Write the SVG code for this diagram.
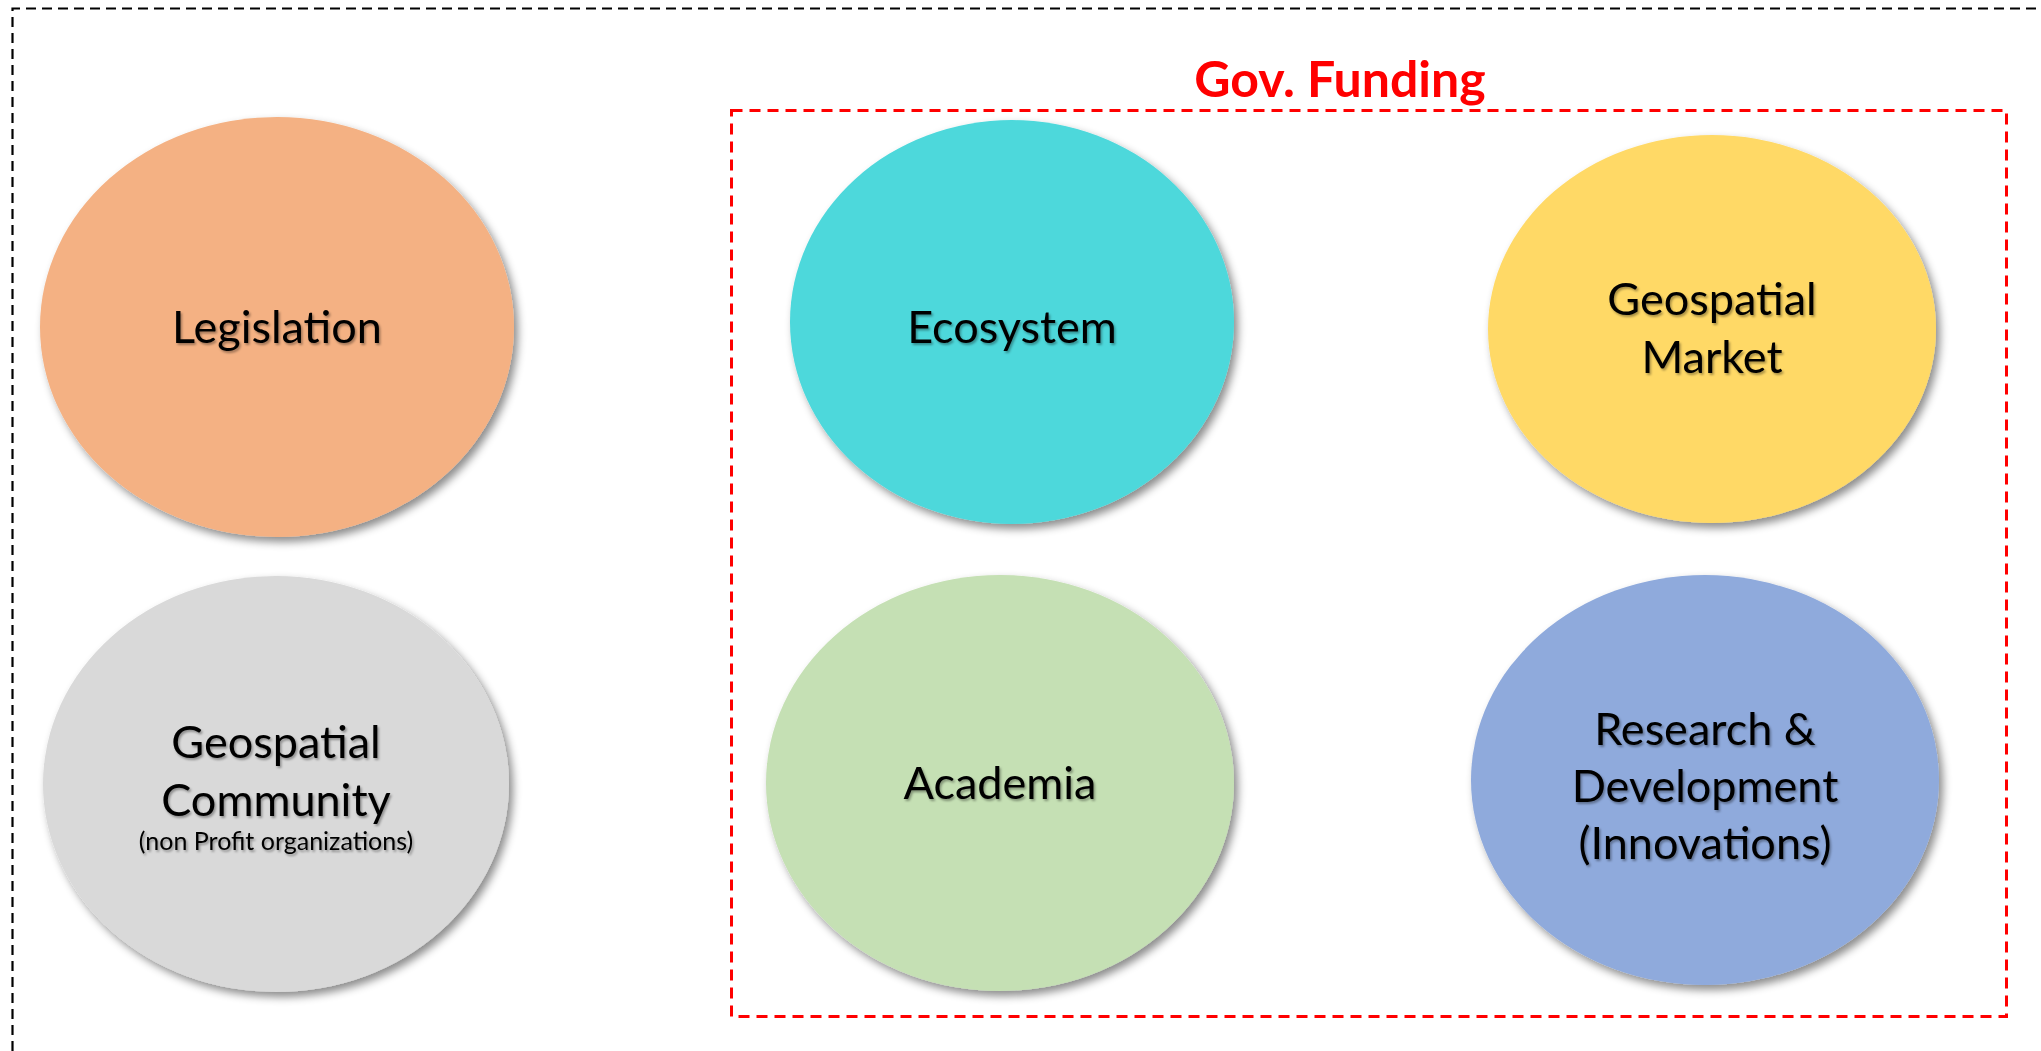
<svg xmlns="http://www.w3.org/2000/svg" width="2041" height="1051" viewBox="0 0 2041 1051">
<style>
.lbl{font-family:Lato,"Liberation Sans",sans-serif;font-size:45px;fill:#000;text-anchor:middle;filter:url(#tsh)}
.sm{font-size:25px}
.frame{fill:none;stroke:#000;stroke-width:2.2;stroke-dasharray:10 6}
.gov{fill:none;stroke:#FF0000;stroke-width:3;stroke-dasharray:11 7}
.title{font-family:Lato,"Liberation Sans",sans-serif;font-weight:bold;font-size:50px;fill:#FF0000;text-anchor:middle}
.node ellipse{filter:url(#sh)}
</style>
<defs>
<filter id="sh" x="-20%" y="-20%" width="140%" height="140%">
<feDropShadow dx="4" dy="5" stdDeviation="4" flood-color="#000" flood-opacity="0.45"/>
</filter>
<filter id="tsh" x="-10%" y="-30%" width="120%" height="160%">
<feDropShadow dx="1.5" dy="2" stdDeviation="1.2" flood-color="#000" flood-opacity="0.35"/>
</filter>
</defs>
<rect width="2041" height="1051" fill="#fff"/>
<path class="frame" d="M12.5,1051 V8.5 H2041"/>
<g id="gov-funding">
<rect class="gov" x="731.5" y="110.5" width="1275" height="906"/>
<text class="title" x="1340" y="97">Gov. Funding</text>
</g>
<g id="legislation" class="node">
<ellipse cx="277" cy="327" rx="237" ry="210" fill="#F4B183"/>
<text class="lbl" x="277" y="343">Legislation</text>
</g>
<g id="geospatial-community" class="node">
<ellipse cx="276" cy="784" rx="233" ry="208" fill="#D9D9D9"/>
<text class="lbl" x="276" y="758">Geospatial</text>
<text class="lbl" x="276" y="816">Community</text>
<text class="lbl sm" x="276" y="850">(non Profit organizations)</text>
</g>
<g id="ecosystem" class="node">
<ellipse cx="1012" cy="322" rx="222" ry="202" fill="#4DD8DB"/>
<text class="lbl" x="1012" y="343">Ecosystem</text>
</g>
<g id="geospatial-market" class="node">
<ellipse cx="1712" cy="329" rx="224" ry="194" fill="#FFD966"/>
<text class="lbl" x="1712" y="315">Geospatial</text>
<text class="lbl" x="1712" y="373">Market</text>
</g>
<g id="academia" class="node">
<ellipse cx="1000" cy="783" rx="234" ry="208" fill="#C5E0B4"/>
<text class="lbl" x="1000" y="799">Academia</text>
</g>
<g id="research-development" class="node">
<ellipse cx="1705" cy="780" rx="234" ry="205" fill="#8FAADC"/>
<text class="lbl" x="1705" y="745">Research &amp;</text>
<text class="lbl" x="1705" y="802">Development</text>
<text class="lbl" x="1705" y="859">(Innovations)</text>
</g>
<g id="connectors"/>
</svg>
